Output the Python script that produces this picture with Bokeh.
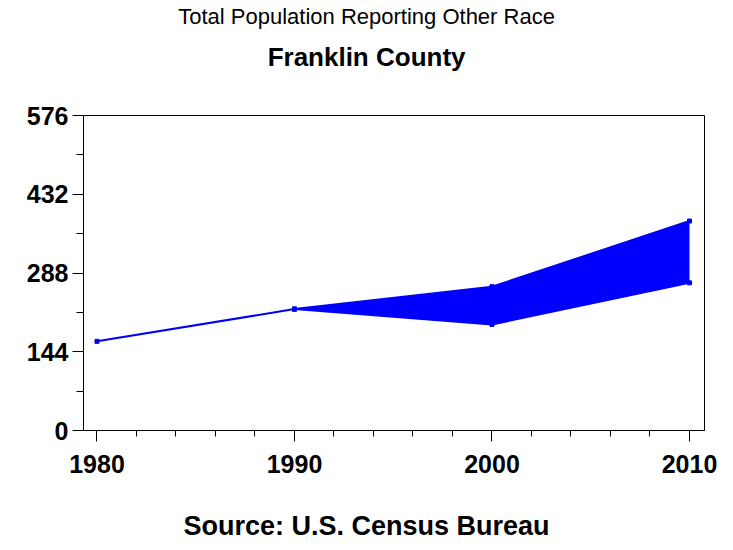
from bokeh.plotting import figure
from bokeh.models import FixedTicker, Range1d, LinearAxis
from bokeh.embed import file_html
from bokeh.resources import INLINE

# ---- data ----
years_line = [1980, 1990]
pop_line = [163, 222]
years_band = [1990, 2000, 2010]
band_lower = [222, 194, 270]
band_upper = [222, 263, 383]

x_ticks = [1980, 1990, 2000, 2010]
x_minor = [1982, 1984, 1986, 1988, 1992, 1994, 1996, 1998, 2002, 2004, 2006, 2008]
y_ticks = [0, 144, 288, 432, 576]
y_minor = [72, 216, 360, 504]

title_text = "Total Population Reporting Other Race"
subtitle_text = "Franklin County"
footnote_text = "Source: U.S. Census Bureau"

BLUE = "#0000ff"
FONT = "Liberation Sans"

X_START, X_END = 1979.317, 2010.76
# x position (in axis units) that falls on the horizontal centre of the page
TEXT_X = 1993.65

p = figure(width=733, height=550, output_backend="svg", toolbar_location=None,
           x_range=Range1d(X_START, X_END), y_range=Range1d(0, 576),
           min_border_left=83, min_border_right=29, min_border_top=115,
           min_border_bottom=120, title=None)

p.xgrid.visible = False
p.ygrid.visible = False
p.outline_line_color = "black"
p.outline_line_width = 1
p.background_fill_color = "white"
p.border_fill_color = "white"

# band
p.varea(x=years_band, y1=band_lower, y2=band_upper, fill_color=BLUE)
p.line(years_band, band_upper, line_color=BLUE, line_width=2)
p.line(years_band, band_lower, line_color=BLUE, line_width=2)
p.line(years_line, pop_line, line_color=BLUE, line_width=2)
p.scatter(years_line, pop_line, marker="square", size=4, color=BLUE)
p.scatter(years_band, band_upper, marker="square", size=4, color=BLUE)
p.scatter(years_band, band_lower, marker="square", size=4, color=BLUE)

# axes
xax = p.xaxis[0]
yax = p.yaxis[0]
for ax in (xax, yax):
    ax.axis_line_color = "black"
    ax.major_tick_line_color = "black"
    ax.minor_tick_line_color = "black"
    ax.major_tick_in = 0
    ax.minor_tick_in = 0
    ax.major_tick_out = 11
    ax.major_label_text_font = FONT
    ax.major_label_text_font_style = "bold"
    ax.major_label_text_font_size = "25px"
    ax.major_label_text_color = "black"

xax.ticker = FixedTicker(ticks=x_ticks, minor_ticks=x_minor)
yax.ticker = FixedTicker(ticks=y_ticks, minor_ticks=y_minor)
xax.minor_tick_out = 6
yax.minor_tick_out = 7
xax.major_label_standoff = 13
yax.major_label_standoff = 4


def text_row(text, gap, size, style):
    # a line-less axis whose single label carries a title line
    return LinearAxis(ticker=FixedTicker(ticks=[TEXT_X], minor_ticks=[]),
                      major_label_overrides={TEXT_X: text},
                      major_tick_out=gap, major_tick_in=0,
                      minor_tick_out=0, minor_tick_in=0,
                      axis_line_color=None, major_tick_line_color=None,
                      minor_tick_line_color=None, major_label_standoff=0,
                      major_label_text_font=FONT, major_label_text_font_size=size,
                      major_label_text_font_style=style,
                      major_label_text_color="black")


p.add_layout(text_row(subtitle_text, 44, "26px", "bold"), "above")
p.add_layout(text_row(title_text, 10, "22px", "normal"), "above")
p.add_layout(text_row(footnote_text, 35, "27px", "bold"), "below")

open("out.html", "w").write(file_html(p, INLINE))
